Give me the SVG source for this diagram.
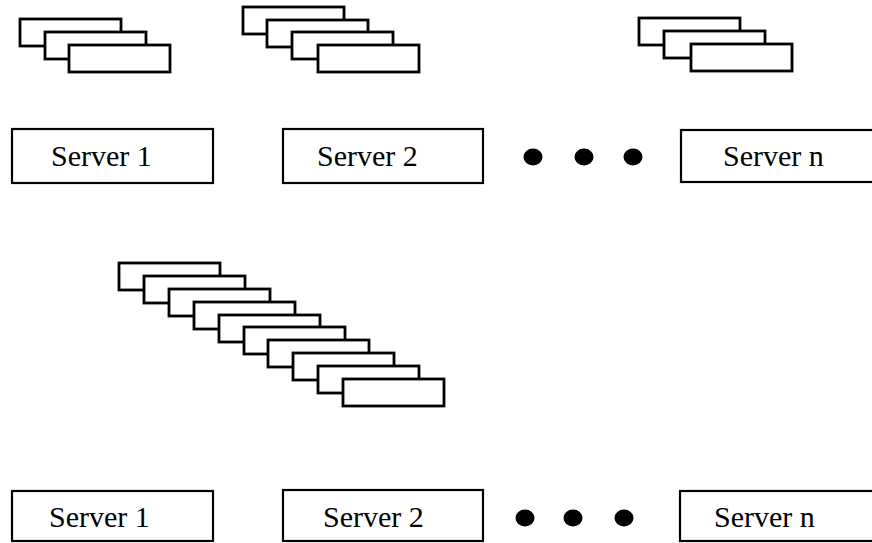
<svg xmlns="http://www.w3.org/2000/svg" width="872" height="543" viewBox="0 0 872 543">
<style>
.card{fill:#fff;stroke:#000;stroke-width:2.8}
.box{fill:#fff;stroke:#000;stroke-width:2.2}
.lbl{font-family:"Liberation Serif","Times New Roman",serif;font-size:30px;fill:#000}
.dot{fill:#000}
</style>
<rect width="872" height="543" fill="#fff"/>
<defs>
<rect id="c" class="card" width="101" height="27"/>
</defs>
<g id="stack1">
<use href="#c" x="20" y="19"/>
<use href="#c" x="45" y="32"/>
<use href="#c" x="69" y="45"/>
</g>
<g id="stack2">
<use href="#c" x="243" y="7"/>
<use href="#c" x="267" y="20"/>
<use href="#c" x="292" y="32"/>
<use href="#c" x="318" y="45"/>
</g>
<g id="stackn">
<use href="#c" x="639" y="18"/>
<use href="#c" x="664" y="31"/>
<use href="#c" x="691" y="44"/>
</g>
<g id="top-server1"><rect class="box" x="12" y="129" width="201" height="54"/><text class="lbl" x="51" y="166">Server 1</text></g>
<g id="top-server2"><rect class="box" x="283" y="129" width="200" height="54"/><text class="lbl" x="317" y="166">Server 2</text></g>
<g id="top-dots"><ellipse class="dot" cx="533" cy="157" rx="9.5" ry="8.5"/><ellipse class="dot" cx="584" cy="157" rx="9.5" ry="8.5"/><ellipse class="dot" cx="633" cy="157" rx="9.5" ry="8.5"/></g>
<g id="top-servern"><rect class="box" x="681" y="130" width="200" height="52"/><text class="lbl" x="723" y="166">Server n</text></g>
<g id="bigstack">
<use href="#c" x="119" y="263"/>
<use href="#c" x="144" y="276"/>
<use href="#c" x="169" y="289"/>
<use href="#c" x="194" y="302"/>
<use href="#c" x="219" y="315"/>
<use href="#c" x="244" y="327"/>
<use href="#c" x="268" y="340"/>
<use href="#c" x="293" y="353"/>
<use href="#c" x="318" y="366"/>
<use href="#c" x="343" y="379"/>
</g>
<g id="bot-server1"><rect class="box" x="12" y="491" width="201" height="50"/><text class="lbl" x="49" y="527">Server 1</text></g>
<g id="bot-server2"><rect class="box" x="283" y="490" width="200" height="51"/><text class="lbl" x="323" y="527">Server 2</text></g>
<g id="bot-dots"><ellipse class="dot" cx="525" cy="518" rx="9.5" ry="8.5"/><ellipse class="dot" cx="573" cy="518" rx="9.5" ry="8.5"/><ellipse class="dot" cx="624" cy="518" rx="9.5" ry="8.5"/></g>
<g id="bot-servern"><rect class="box" x="680" y="491" width="200" height="50"/><text class="lbl" x="714" y="527">Server n</text></g>
<g id="connectors"/>
</svg>
